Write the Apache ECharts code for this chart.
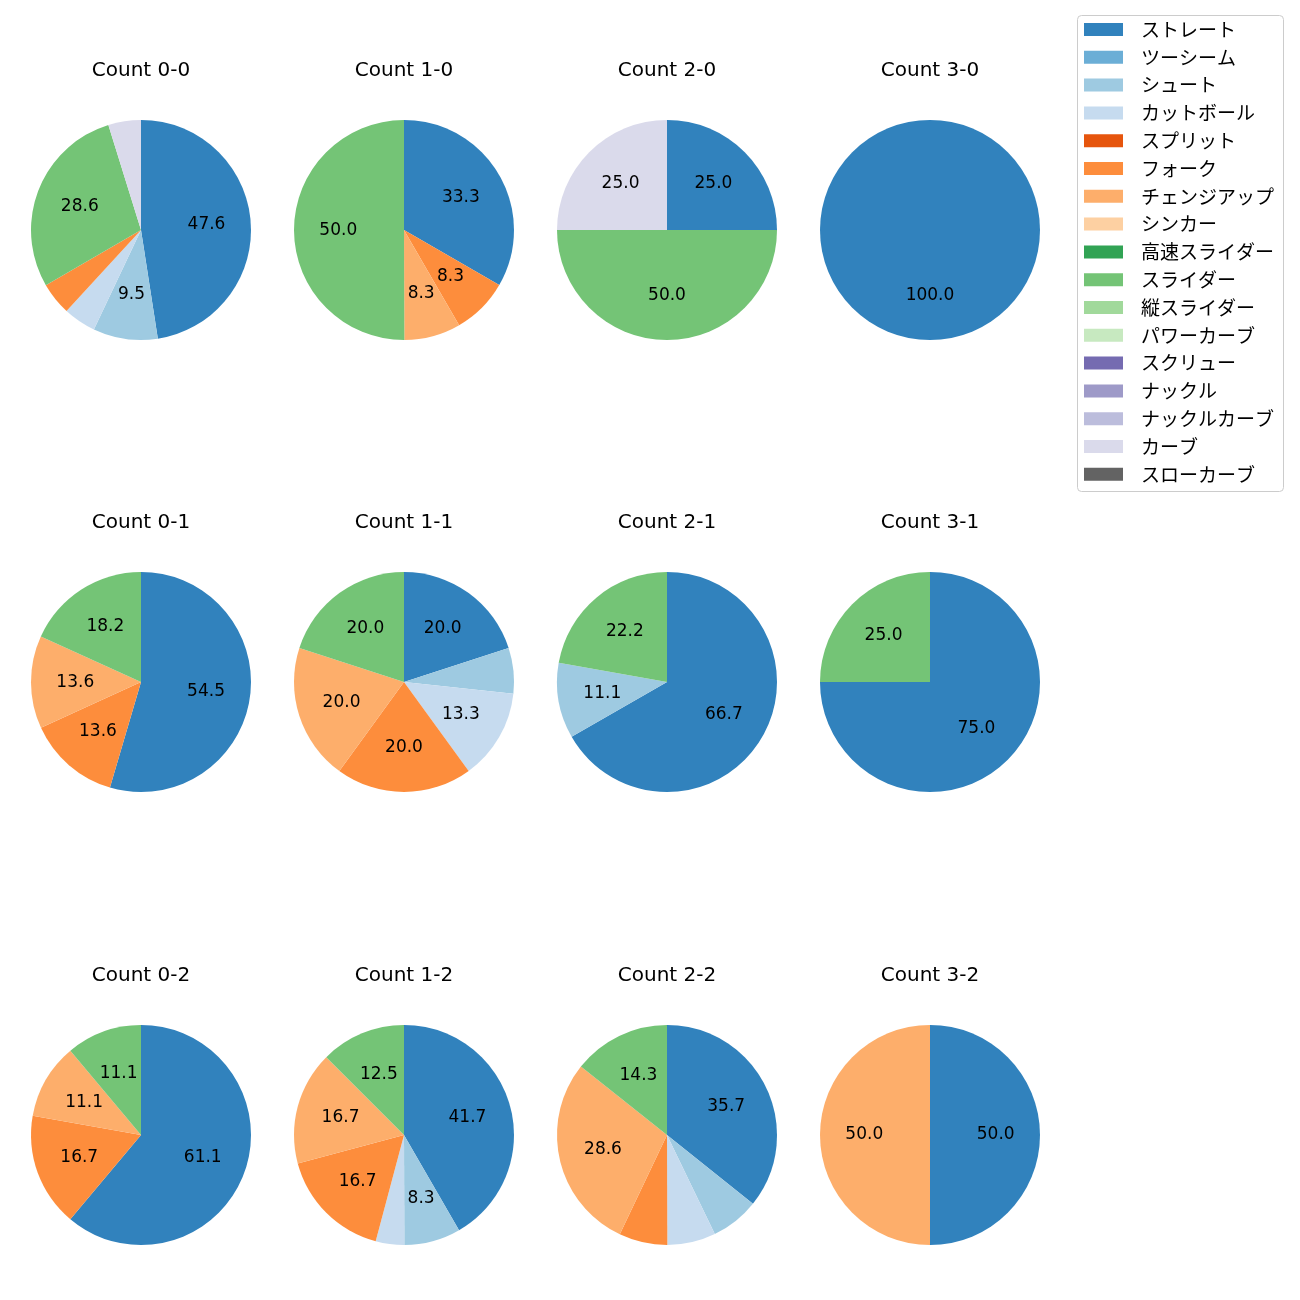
<!DOCTYPE html>
<html>
<head>
<meta charset="utf-8">
<script src="https://cdn.jsdelivr.net/npm/echarts@6/dist/echarts.min.js"></script>
<style>
html,body{margin:0;padding:0;background:#fff;}
#chart{width:1300px;height:1300px;}
</style>
</head>
<body>
<div id="chart"></div>
<script>
// Pitch types (legend order) and tab20c-like colors
const categories = ['ストレート','ツーシーム','シュート','カットボール','スプリット','フォーク','チェンジアップ','シンカー','高速スライダー','スライダー','縦スライダー','パワーカーブ','スクリュー','ナックル','ナックルカーブ','カーブ','スローカーブ'];
const colors = ['#3182bd','#6baed6','#9ecae1','#c6dbef','#e6550d','#fd8d3c','#fdae6b','#fdd0a2','#31a354','#74c476','#a1d99b','#c7e9c0','#756bb1','#9e9ac8','#bcbddc','#dadaeb','#636363'];

// Percentages per count, in category order
const count00 = [47.6,0,9.5,4.8,0,4.8,0,0,0,28.6,0,0,0,0,0,4.8,0];
const count10 = [33.3,0,0,0,0,8.3,8.3,0,0,50.0,0,0,0,0,0,0,0];
const count20 = [25.0,0,0,0,0,0,0,0,0,50.0,0,0,0,0,0,25.0,0];
const count30 = [100.0,0,0,0,0,0,0,0,0,0,0,0,0,0,0,0,0];
const count01 = [54.5,0,0,0,0,13.6,13.6,0,0,18.2,0,0,0,0,0,0,0];
const count11 = [20.0,0,6.7,13.3,0,20.0,20.0,0,0,20.0,0,0,0,0,0,0,0];
const count21 = [66.7,0,11.1,0,0,0,0,0,0,22.2,0,0,0,0,0,0,0];
const count31 = [75.0,0,0,0,0,0,0,0,0,25.0,0,0,0,0,0,0,0];
const count02 = [61.1,0,0,0,0,16.7,11.1,0,0,11.1,0,0,0,0,0,0,0];
const count12 = [41.7,0,8.3,4.2,0,16.7,16.7,0,0,12.5,0,0,0,0,0,0,0];
const count22 = [35.7,0,7.1,7.1,0,7.1,28.6,0,0,14.3,0,0,0,0,0,0,0];
const count32 = [50.0,0,0,0,0,0,50.0,0,0,0,0,0,0,0,0,0,0];

const panels = [
  {title:'Count 0-0', data:count00}, {title:'Count 1-0', data:count10}, {title:'Count 2-0', data:count20}, {title:'Count 3-0', data:count30},
  {title:'Count 0-1', data:count01}, {title:'Count 1-1', data:count11}, {title:'Count 2-1', data:count21}, {title:'Count 3-1', data:count31},
  {title:'Count 0-2', data:count02}, {title:'Count 1-2', data:count12}, {title:'Count 2-2', data:count22}, {title:'Count 3-2', data:count32}
];

const colX = [141, 404, 667, 930];
const rowY = [230, 682, 1135];
const R = 110;
const FONT = '"Noto Sans CJK JP", "Noto Sans", sans-serif';
const LATIN = '"DejaVu Sans", "Noto Sans CJK JP", sans-serif';

const series = [];
const graphics = [{
  type:'rect', z: 0,
  shape:{x:1077.5, y:15.5, width:206, height:476, r:4},
  style:{fill:'rgba(255,255,255,0.8)', stroke:'#cccccc', lineWidth:1}
}];

panels.forEach((p, i) => {
  const cx = colX[i % 4], cy = rowY[Math.floor(i / 4)];
  series.push({
    type:'pie', name:p.title, center:[cx, cy], radius:[0, R],
    startAngle:90, clockwise:true, animation:false, silent:true,
    stillShowZeroSum:false, minAngle:0,
    label:{show:false}, labelLine:{show:false},
    itemStyle:{borderWidth:0},
    emphasis:{disabled:true},
    data: categories.map((c, k) => ({name:c, value:p.data[k], itemStyle:{color:colors[k]}}))
  });
  // label layer: labels at ~0.6 R
  series.push({
    type:'pie', center:[cx, cy], radius:[0, R * 1.14],
    startAngle:90, clockwise:true, animation:false, silent:true,
    stillShowZeroSum:false, minAngle:0,
    itemStyle:{color:'rgba(0,0,0,0)', borderWidth:0},
    labelLine:{show:false},
    emphasis:{disabled:true},
    label:{
      show:true, position:'inside', color:'#000', fontSize:17, fontFamily:LATIN,
      formatter: (prm) => prm.value >= 7.5 ? prm.value.toFixed(1) : ''
    },
    data: p.data.map(v => ({value:v}))
  });
  graphics.push({
    type:'text', x:cx, y:cy - 159,
    style:{text:p.title, fill:'#000', font:'20px ' + LATIN, textAlign:'center', textVerticalAlign:'middle'}
  });
});

const chart = echarts.init(document.getElementById('chart'), null, {renderer:'canvas'});
chart.setOption({
  backgroundColor:'#ffffff',
  animation:false,
  graphic: graphics,
  legend:{
    z: 10,
    orient:'vertical', left:1084, top:20, padding:0,
    itemWidth:39, itemHeight:13, itemGap:8.8,
    icon:'rect',
    selectedMode:false,
    textStyle:{fontSize:19, lineHeight:19, color:'#000', fontFamily:FONT, padding:[0,0,0,13]},
    data: categories.map((c, k) => ({name:c, itemStyle:{color:colors[k]}}))
  },
  series: series
});
</script>
</body>
</html>
